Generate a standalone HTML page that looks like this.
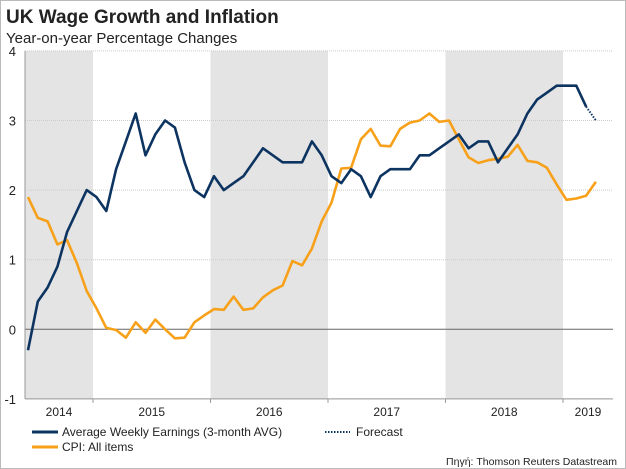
<!DOCTYPE html>
<html><head><meta charset="utf-8"><style>
body{margin:0;background:#fff;font-family:"Liberation Sans","DejaVu Sans",sans-serif;}
#wrap{position:relative;width:626px;height:469px;overflow:hidden;}
</style></head><body>
<div id="wrap">
<svg id="chart" width="626" height="469" xmlns="http://www.w3.org/2000/svg">
<rect x="0.5" y="0.5" width="625" height="468" fill="#fff" stroke="#bbb"/>
<text x="6" y="23" font-size="19" font-weight="bold" fill="#222">UK Wage Growth and Inflation</text>
<text x="6" y="43" font-size="15" fill="#222">Year-on-year Percentage Changes</text>
<g id="shade"></g><g id="grid"></g><g id="axes"></g><g id="series"></g>
<g>
<line x1="32" y1="432" x2="58" y2="432" stroke="#0d3461" stroke-width="3"/>
<text x="62" y="436" font-size="12" fill="#222">Average Weekly Earnings (3-month AVG)</text>
<line x1="325" y1="432" x2="350" y2="432" stroke="#0d3461" stroke-width="2" stroke-dasharray="1.5,1.5"/>
<text x="356" y="436" font-size="12" fill="#222">Forecast</text>
<line x1="32" y1="447" x2="58" y2="447" stroke="#f7a11a" stroke-width="3"/>
<text x="62" y="451" font-size="12" fill="#222">CPI: All items</text>
</g>
<text x="617" y="465" font-size="10.5" fill="#222" text-anchor="end">Πηγή: Thomson Reuters Datastream</text>
</svg>
</div>
<script>
const yTicks=[-1,0,1,2,3,4];
const years=["2014","2015","2016","2017","2018","2019"];
const wage=[-0.3,0.4,0.6,0.9,1.4,1.7,2.0,1.9,1.7,2.3,2.7,3.1,2.5,2.8,3.0,2.9,2.4,2.0,1.9,2.2,2.0,2.1,2.2,2.4,2.6,2.5,2.4,2.4,2.4,2.7,2.5,2.2,2.1,2.3,2.2,1.9,2.2,2.3,2.3,2.3,2.5,2.5,2.6,2.7,2.8,2.6,2.7,2.7,2.4,2.6,2.8,3.1,3.3,3.4,3.5,3.5,3.5,3.2];
const forecast=[3.2,3.0];
const cpi=[1.9,1.6,1.55,1.22,1.28,0.95,0.55,0.3,0.02,-0.01,-0.12,0.1,-0.05,0.14,0.0,-0.13,-0.12,0.1,0.2,0.29,0.28,0.47,0.28,0.3,0.46,0.56,0.63,0.98,0.92,1.16,1.55,1.82,2.31,2.32,2.73,2.88,2.64,2.63,2.88,2.97,3.0,3.1,2.98,3.0,2.73,2.47,2.39,2.43,2.45,2.48,2.65,2.42,2.4,2.32,2.08,1.86,1.88,1.92,2.12];
const startMonth=5; // June 2014 (months from Jan 2014)
const NS="http://www.w3.org/2000/svg";
const L=25,R=613,yearW=117.5,jan2014=93-117.5;
function yS(v){return 329.3-v*69.6;}
function xM(m){return jan2014+(m+0.36)*yearW/12;}
function xI(i){return xM(startMonth+i);}
function mk(tag,attrs,parent){const e=document.createElementNS(NS,tag);for(const k in attrs)e.setAttribute(k,attrs[k]);document.getElementById(parent).appendChild(e);return e;}
years.forEach((y,k)=>{
  if(k%2===0){
    const x0=Math.max(L,jan2014+k*yearW),x1=Math.min(R,jan2014+(k+1)*yearW);
    const r=mk('rect',{x:x0,y:yS(4),width:x1-x0,height:yS(-1)-yS(4),fill:'#e4e4e4'},'shade');
    
    
  }
});
yTicks.forEach(v=>{
  const g=mk('line',{x1:L,x2:R,y1:yS(v),y2:yS(v),stroke:v===0?'#666':'#ccc','stroke-width':1,'stroke-dasharray':v===0?'':'1,1'},'grid');
  
  
  const t=mk('text',{x:16,y:yS(v)+5,'text-anchor':'end','font-size':13,fill:'#222'},'axes');
  t.textContent=v;
  
  
});
const ax=mk('line',{x1:L,x2:L,y1:yS(4),y2:yS(-1),stroke:'#999'},'axes');


const bx=mk('line',{x1:L,x2:R,y1:yS(-1),y2:yS(-1),stroke:'#999'},'axes');


years.forEach((y,k)=>{
  const x0=Math.max(L,jan2014+k*yearW),x1=Math.min(R,jan2014+(k+1)*yearW);
  if(k>0){const tk=mk('line',{x1:x0,x2:x0,y1:yS(-1),y2:yS(-1)+4,stroke:'#999'},'axes');
  
  }
  const t=mk('text',{x:(x0+x1)/2,y:416,'text-anchor':'middle','font-size':12,fill:'#222'},'axes');
  t.textContent=y;
  
  
});
function line(arr,off,color,name,dash){
  const d=arr.map((v,i)=>(i?'L':'M')+xI(i+off).toFixed(1)+','+yS(v).toFixed(1)).join('');
  const p=mk('path',{d:d,fill:'none',stroke:color,'stroke-width':dash?2:2.6,'stroke-linejoin':'round','stroke-dasharray':dash||''},'series');
  
  
}
line(cpi,0,'#f7a11a','cpi-line');
line(wage,0,'#0d3461','wage-line');
line(forecast,wage.length-1,'#0d3461','wage-forecast-line','1.5,1.5');
</script>
</body></html>
